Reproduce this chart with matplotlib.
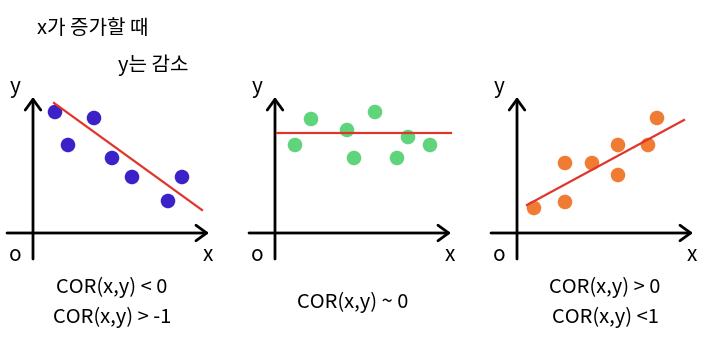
import matplotlib
matplotlib.use("Agg")
import matplotlib.pyplot as plt

plt.rcParams['font.family'] = ['Noto Sans CJK KR', 'DejaVu Sans']

W, H = 711, 361

# =======================
# Datos (unidades locales, origen en el cruce de ejes)
# =======================
neg_x = [2.2, 3.5, 6.1, 7.9, 9.9, 13.5, 14.9]
neg_y = [12.1, 8.8, 11.5, 7.5, 5.6, 3.2, 5.6]
neg_line_x = [2.1, 16.9]
neg_line_y = [13.0, 2.3]

zero_x = [2.0, 3.6, 7.2, 7.9, 10.0, 12.2, 13.3, 15.5]
zero_y = [8.8, 11.4, 10.3, 7.5, 12.1, 7.5, 9.6, 8.8]
zero_line_x = [0.2, 17.6]
zero_line_y = [10.0, 10.0]

pos_x = [1.7, 4.8, 4.8, 7.5, 10.1, 10.1, 13.1, 14.0]
pos_y = [2.5, 3.1, 7.0, 7.0, 8.8, 5.8, 8.8, 11.5]
pos_line_x = [1.0, 16.7]
pos_line_y = [2.8, 11.3]

labels_neg = ["COR(x,y) < 0", "COR(x,y) > -1"]
labels_zero = ["COR(x,y) ~ 0"]
labels_pos = ["COR(x,y) > 0", "COR(x,y) <1"]

panels = [
    (33, neg_x, neg_y, neg_line_x, neg_line_y, "#3b22c8", labels_neg, 112),
    (275, zero_x, zero_y, zero_line_x, zero_line_y, "#5fd47b", labels_zero, 353),
    (517, pos_x, pos_y, pos_line_x, pos_line_y, "#ef7c32", labels_pos, 605),
]

fig = plt.figure(figsize=(W / 100, H / 100), dpi=100)

# =======================
# Paneles
# =======================
for ox, xs, ys, lx, ly, color, texts, cx in panels:
    oy = 233
    ax = fig.add_axes([(ox - 30) / W, (H - (oy + 40)) / H, 215 / W, 200 / H])
    ax.set_xlim(-3.0, 18.5)
    ax.set_ylim(-4.0, 16.0)
    ax.axis("off")

    arrow = dict(arrowstyle="->,head_length=0.55,head_width=0.4",
                 lw=2, color="black", mutation_scale=14, shrinkA=0, shrinkB=0)
    ax.annotate("", xy=(17.6, 0), xytext=(-2.6, 0), arrowprops=arrow)
    ax.annotate("", xy=(0, 13.6), xytext=(0, -2.6), arrowprops=arrow)

    ax.scatter(xs, ys, s=110, color=color, edgecolors="none", zorder=3)
    ax.plot(lx, ly, color="#e0352b", lw=1.6, zorder=4)

    ax.text(-1.8, 14.6, "y", fontsize=15, ha="center", va="center")
    ax.text(-1.8, -2.2, "o", fontsize=15, ha="center", va="center")
    ax.text(17.5, -2.2, "x", fontsize=15, ha="center", va="center")

    if len(texts) == 2:
        ys_txt = [287, 317]
    else:
        ys_txt = [302]
    for t, ty in zip(texts, ys_txt):
        fig.text(cx / W, 1 - ty / H, t, fontsize=14.5, ha="center", va="center")

fig.text(37 / W, 1 - 29 / H, "x가 증가할 때", fontsize=14.5, ha="left", va="center")
fig.text(118 / W, 1 - 65 / H, "y는 감소", fontsize=14.5, ha="left", va="center")

plt.savefig("out.png", dpi=100)
